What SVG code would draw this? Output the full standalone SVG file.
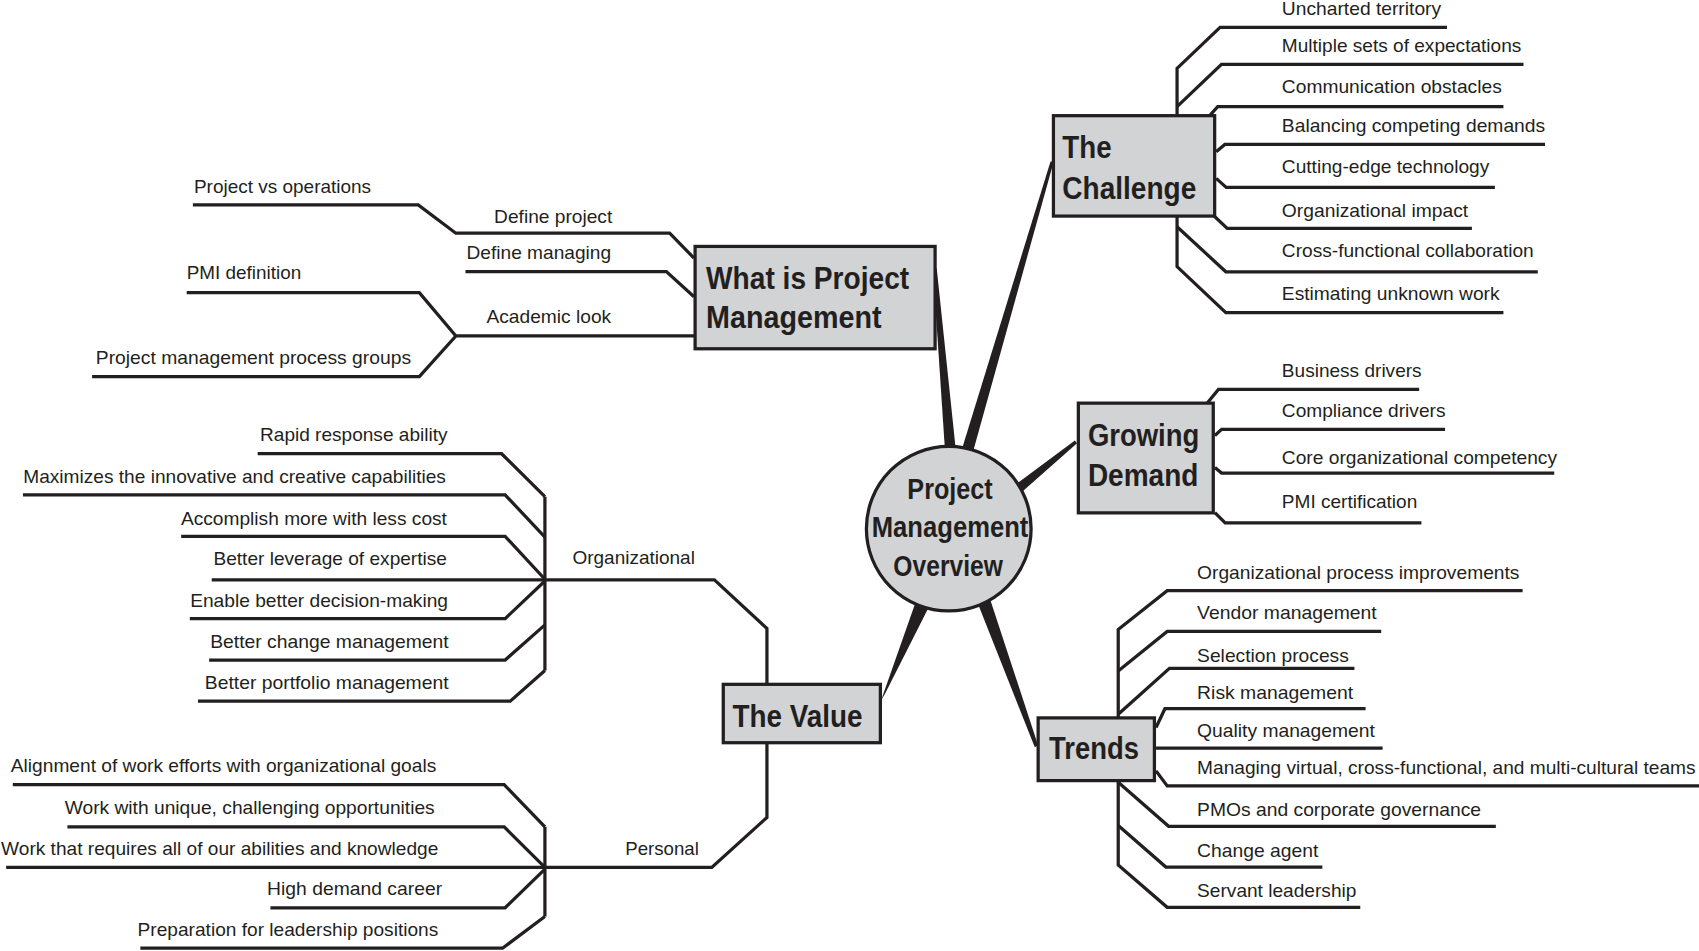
<svg xmlns="http://www.w3.org/2000/svg" width="1699" height="951" viewBox="0 0 1699 951">
<style>
.ln{fill:none;stroke:#231f20;stroke-width:3;stroke-linejoin:miter;stroke-miterlimit:4}
.tp{fill:#231f20;stroke:none}
.box{fill:#d1d3d4;stroke:#231f20;stroke-width:3}
.t{font-family:"Liberation Sans Narrow","Liberation Sans",Arial,sans-serif;font-size:17.5px;fill:#231f20}
.e{text-anchor:end}
.h{font-family:"Liberation Sans Narrow","Liberation Sans",Arial,sans-serif;font-weight:bold;font-size:29px;fill:#231f20}
.c{text-anchor:middle;font-size:27px}
</style>
<rect x="0" y="0" width="1699" height="951" fill="#ffffff"/>
<g transform="scale(1.08355 1.08314)">
<g id="connectors">
<polygon class="tp" points="861,248 864.5,248 882.6,420 872.4,420"/>
<polygon class="tp" points="969.5,149 972.5,149 898,417 887,417"/>
<polygon class="tp" points="992,406.8 994,409.2 942.8,454.5 937.2,447.5"/>
<polygon class="tp" points="899.6,550 912.7,550 958,688 955,690"/>
<polygon class="tp" points="845,556 859,557 817,640 813,647"/>
<path class="ln" d="M640.5,238.3 L618,215.3 L420.7,215.3 L386,189.2 L178,189.2"/>
<path class="ln" d="M640.5,274 L615,250.7 L429.6,250.7"/>
<path class="ln" d="M640.5,310.2 L420.7,310.2 M172.3,270.2 L387,270.2 L420.7,310.2 L387,347.7 L85,347.7"/>
<path class="ln" d="M1086.3,106 L1086.3,63.1 L1126,25.2 L1335.4,25.2"/>
<path class="ln" d="M1086.3,98.5 L1127.3,59.4 L1406,59.4"/>
<path class="ln" d="M1117,106 L1123.8,98.5 L1387.5,98.5"/>
<path class="ln" d="M1122.4,140 L1130.4,133.3 L1425.9,133.3"/>
<path class="ln" d="M1122.4,164.7 L1131.7,173 L1379.6,173"/>
<path class="ln" d="M1120,199 L1132.6,210.8 L1358.4,210.8"/>
<path class="ln" d="M1086.3,200 L1086.3,246.2 L1131.3,288.7 L1387.5,288.7"/>
<path class="ln" d="M1086.3,209.3 L1131.3,250.9 L1419.2,250.9"/>
<path class="ln" d="M1114.2,372 L1124.5,359.5 L1309.7,359.5"/>
<path class="ln" d="M1121.2,402 L1127.4,396.4 L1333.6,396.4"/>
<path class="ln" d="M1121.2,431.6 L1127.4,436.8 L1434.4,436.8"/>
<path class="ln" d="M1121.2,473.3 L1130.7,482.7 L1311.8,482.7"/>
<path class="ln" d="M1032,662 L1032,581.2 L1077.2,545.4 L1405.2,545.4"/>
<path class="ln" d="M1032,619.5 L1077.2,583 L1274.7,583"/>
<path class="ln" d="M1032,659.5 L1079.3,617 L1250,617"/>
<path class="ln" d="M1066.9,671.7 L1075.1,654.3 L1260.3,654.3"/>
<path class="ln" d="M1066.9,690.8 L1276,690.8"/>
<path class="ln" d="M1066.9,711.7 L1077.2,725.6 L1570,725.6"/>
<path class="ln" d="M1032,721 L1032,798.7 L1077.2,837.7 L1255.4,837.7"/>
<path class="ln" d="M1032,722.2 L1078.5,762.9 L1380.5,762.9"/>
<path class="ln" d="M1032,762.2 L1076,800.5 L1220.4,800.5"/>
<path class="ln" d="M707.8,631 L707.8,580.2 L659.3,535.4 L195.4,535.4"/>
<path class="ln" d="M502.9,458.5 L502.9,619.1"/>
<path class="ln" d="M237.8,418.9 L462.9,418.9 L502.9,458.5"/>
<path class="ln" d="M21.2,456.9 L466.2,456.9 L502.9,495.8"/>
<path class="ln" d="M167.2,495.2 L466.2,495.2 L502.9,534.8"/>
<path class="ln" d="M175.2,571.1 L466.2,571.1 L502.9,536.4"/>
<path class="ln" d="M193,609.4 L466.2,609.4 L502.9,576.9"/>
<path class="ln" d="M182.7,647.3 L470.9,647.3 L502.9,619.1"/>
<path class="ln" d="M707.8,686 L707.8,754.7 L656.9,800.8 L5.7,800.8"/>
<path class="ln" d="M502.9,763.4 L502.9,846.2"/>
<path class="ln" d="M11.8,724.5 L465.3,724.5 L502.9,763.4"/>
<path class="ln" d="M62.2,763.4 L465.3,763.4 L502.9,800.8"/>
<path class="ln" d="M249.6,838.1 L466.2,838.1 L502.9,802.4"/>
<path class="ln" d="M129.5,875.4 L463.8,875.4 L502.9,846.2"/>
</g>
<g id="center">
<circle class="box" cx="875.6" cy="488.1" r="76"/>
<text class="h c" x="876.8" y="460.6" textLength="78.8" lengthAdjust="spacingAndGlyphs">Project</text>
<text class="h c" x="876.8" y="495.6" textLength="144.5" lengthAdjust="spacingAndGlyphs">Management</text>
<text class="h c" x="875" y="531.6" textLength="101" lengthAdjust="spacingAndGlyphs">Overview</text>
</g>
<g id="what-is-pm">
<rect class="box" x="641.5" y="227.5" width="221.5" height="94.5"/>
<text class="h" x="651.6" y="266.5" textLength="187.5" lengthAdjust="spacingAndGlyphs">What is Project</text>
<text class="h" x="651.6" y="303" textLength="162" lengthAdjust="spacingAndGlyphs">Management</text>
</g>
<g id="the-challenge">
<rect class="box" x="972.2" y="106.8" width="148.8" height="92.7"/>
<text class="h" x="980.4" y="146" textLength="45.5" lengthAdjust="spacingAndGlyphs">The</text>
<text class="h" x="980.4" y="183.7" textLength="123.6" lengthAdjust="spacingAndGlyphs">Challenge</text>
</g>
<g id="growing-demand">
<rect class="box" x="995.2" y="372.2" width="124.5" height="101.3"/>
<text class="h" x="1004" y="411.7" textLength="102.8" lengthAdjust="spacingAndGlyphs">Growing</text>
<text class="h" x="1004" y="449" textLength="102" lengthAdjust="spacingAndGlyphs">Demand</text>
</g>
<g id="trends">
<rect class="box" x="958.1" y="662.8" width="107.3" height="57.9"/>
<text class="h" x="968.2" y="700.6" textLength="83" lengthAdjust="spacingAndGlyphs">Trends</text>
</g>
<g id="the-value">
<rect class="box" x="667.5" y="631.8" width="145" height="53.9"/>
<text class="h" x="676" y="671" textLength="120" lengthAdjust="spacingAndGlyphs">The Value</text>
</g>
<g id="define-project"><text class="t e" x="565" y="205.5" textLength="109" lengthAdjust="spacingAndGlyphs">Define project</text></g>
<g id="project-vs-operations"><text class="t" x="179" y="178" textLength="163.5" lengthAdjust="spacingAndGlyphs">Project vs operations</text></g>
<g id="define-managing"><text class="t e" x="564" y="239.4" textLength="133.5" lengthAdjust="spacingAndGlyphs">Define managing</text></g>
<g id="academic-look"><text class="t e" x="564" y="298" textLength="115" lengthAdjust="spacingAndGlyphs">Academic look</text></g>
<g id="pmi-definition"><text class="t" x="172.3" y="258" textLength="105.7" lengthAdjust="spacingAndGlyphs">PMI definition</text></g>
<g id="pm-process-groups"><text class="t" x="88.4" y="336.4" textLength="291" lengthAdjust="spacingAndGlyphs">Project management process groups</text></g>
<g id="uncharted-territory"><text class="t" x="1183" y="14" textLength="147" lengthAdjust="spacingAndGlyphs">Uncharted territory</text></g>
<g id="multiple-sets"><text class="t" x="1183" y="47.7" textLength="221" lengthAdjust="spacingAndGlyphs">Multiple sets of expectations</text></g>
<g id="communication-obstacles"><text class="t" x="1183" y="86.2" textLength="203" lengthAdjust="spacingAndGlyphs">Communication obstacles</text></g>
<g id="balancing-demands"><text class="t" x="1183" y="121.6" textLength="243" lengthAdjust="spacingAndGlyphs">Balancing competing demands</text></g>
<g id="cutting-edge"><text class="t" x="1183" y="159.4" textLength="191.5" lengthAdjust="spacingAndGlyphs">Cutting-edge technology</text></g>
<g id="organizational-impact"><text class="t" x="1183" y="200" textLength="172" lengthAdjust="spacingAndGlyphs">Organizational impact</text></g>
<g id="cross-functional"><text class="t" x="1183" y="237.6" textLength="232.5" lengthAdjust="spacingAndGlyphs">Cross-functional collaboration</text></g>
<g id="estimating-unknown"><text class="t" x="1183" y="277" textLength="201" lengthAdjust="spacingAndGlyphs">Estimating unknown work</text></g>
<g id="business-drivers"><text class="t" x="1183" y="348" textLength="129" lengthAdjust="spacingAndGlyphs">Business drivers</text></g>
<g id="compliance-drivers"><text class="t" x="1183" y="384.6" textLength="151" lengthAdjust="spacingAndGlyphs">Compliance drivers</text></g>
<g id="core-competency"><text class="t" x="1183" y="428" textLength="254" lengthAdjust="spacingAndGlyphs">Core organizational competency</text></g>
<g id="pmi-certification"><text class="t" x="1183" y="468.8" textLength="125" lengthAdjust="spacingAndGlyphs">PMI certification</text></g>
<g id="org-process-improvements"><text class="t" x="1104.8" y="534.2" textLength="297.5" lengthAdjust="spacingAndGlyphs">Organizational process improvements</text></g>
<g id="vendor-management"><text class="t" x="1104.8" y="571.8" textLength="165.8" lengthAdjust="spacingAndGlyphs">Vendor management</text></g>
<g id="selection-process"><text class="t" x="1104.8" y="610.8" textLength="140" lengthAdjust="spacingAndGlyphs">Selection process</text></g>
<g id="risk-management"><text class="t" x="1104.8" y="645.6" textLength="144" lengthAdjust="spacingAndGlyphs">Risk management</text></g>
<g id="quality-management"><text class="t" x="1104.8" y="680.4" textLength="164" lengthAdjust="spacingAndGlyphs">Quality management</text></g>
<g id="managing-virtual"><text class="t" x="1104.8" y="714.5" textLength="460" lengthAdjust="spacingAndGlyphs">Managing virtual, cross-functional, and multi-cultural teams</text></g>
<g id="pmos"><text class="t" x="1104.8" y="753.5" textLength="262" lengthAdjust="spacingAndGlyphs">PMOs and corporate governance</text></g>
<g id="change-agent"><text class="t" x="1104.8" y="791" textLength="112" lengthAdjust="spacingAndGlyphs">Change agent</text></g>
<g id="servant-leadership"><text class="t" x="1104.8" y="828.3" textLength="147" lengthAdjust="spacingAndGlyphs">Servant leadership</text></g>
<g id="organizational"><text class="t" x="528.3" y="521.1" textLength="113" lengthAdjust="spacingAndGlyphs">Organizational</text></g>
<g id="personal"><text class="t" x="577" y="789.4" textLength="68" lengthAdjust="spacingAndGlyphs">Personal</text></g>
<g id="rapid-response"><text class="t e" x="413" y="407.6" textLength="173" lengthAdjust="spacingAndGlyphs">Rapid response ability</text></g>
<g id="maximizes"><text class="t e" x="411.5" y="445.5" textLength="390" lengthAdjust="spacingAndGlyphs">Maximizes the innovative and creative capabilities</text></g>
<g id="accomplish-more"><text class="t e" x="412.5" y="484.5" textLength="245.5" lengthAdjust="spacingAndGlyphs">Accomplish more with less cost</text></g>
<g id="better-leverage"><text class="t e" x="412.5" y="521.8" textLength="215.5" lengthAdjust="spacingAndGlyphs">Better leverage of expertise</text></g>
<g id="enable-decision"><text class="t e" x="413.5" y="560" textLength="238" lengthAdjust="spacingAndGlyphs">Enable better decision-making</text></g>
<g id="better-change"><text class="t e" x="414" y="598" textLength="220" lengthAdjust="spacingAndGlyphs">Better change management</text></g>
<g id="better-portfolio"><text class="t e" x="414" y="636" textLength="225" lengthAdjust="spacingAndGlyphs">Better portfolio management</text></g>
<g id="alignment"><text class="t e" x="402.6" y="713.2" textLength="392.6" lengthAdjust="spacingAndGlyphs">Alignment of work efforts with organizational goals</text></g>
<g id="work-unique"><text class="t e" x="401.2" y="751.4" textLength="341.5" lengthAdjust="spacingAndGlyphs">Work with unique, challenging opportunities</text></g>
<g id="work-requires"><text class="t e" x="404.5" y="789.4" textLength="403.5" lengthAdjust="spacingAndGlyphs">Work that requires all of our abilities and knowledge</text></g>
<g id="high-demand"><text class="t e" x="408" y="826.7" textLength="161.5" lengthAdjust="spacingAndGlyphs">High demand career</text></g>
<g id="preparation"><text class="t e" x="404.5" y="864" textLength="277.5" lengthAdjust="spacingAndGlyphs">Preparation for leadership positions</text></g>
</g>
</svg>
